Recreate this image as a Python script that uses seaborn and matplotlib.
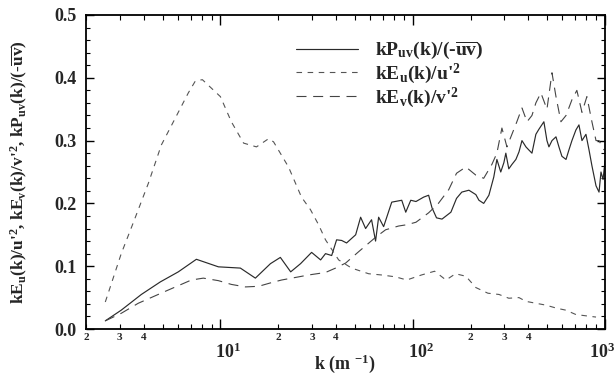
import numpy as np
import pandas as pd
import matplotlib
matplotlib.use("Agg")
import matplotlib.pyplot as plt
import matplotlib.ticker as mticker
import matplotlib.transforms as mtransforms
import seaborn as sns

# ---- data ----
k_uv = [2.52, 3.05, 3.88, 4.87, 6.04, 7.50, 9.76, 12.7, 15.2, 18.2, 20.5, 23.2, 26.1, 29.8,
        33.2, 35.2, 37.9, 40.2, 42.7, 45.3, 50.5, 53.6, 56.9, 61.1, 64.1, 66.5, 70.6, 77.8,
        87.7, 92.0, 97.7, 104, 114, 121, 126, 133, 142, 158, 169, 180, 196, 213, 221, 234,
        249, 264, 274, 287, 298, 305, 316, 328, 344, 357, 370, 388, 402, 417, 437, 453, 481,
        499, 511, 530, 556, 576, 597, 627, 649, 673, 706, 732, 759, 796, 826, 855, 898, 931,
        953, 977, 1000]
P_uv = [0.013, 0.030, 0.055, 0.075, 0.091, 0.111, 0.099, 0.097, 0.081, 0.104, 0.114, 0.091,
        0.104, 0.122, 0.110, 0.120, 0.117, 0.142, 0.141, 0.137, 0.150, 0.178, 0.160, 0.174,
        0.140, 0.178, 0.163, 0.202, 0.205, 0.186, 0.205, 0.203, 0.210, 0.213, 0.193, 0.177,
        0.175, 0.186, 0.208, 0.218, 0.221, 0.214, 0.205, 0.200, 0.213, 0.242, 0.270, 0.250,
        0.265, 0.280, 0.255, 0.262, 0.270, 0.282, 0.300, 0.290, 0.285, 0.280, 0.310, 0.318,
        0.330, 0.300, 0.290, 0.300, 0.306, 0.290, 0.275, 0.270, 0.285, 0.300, 0.317, 0.325,
        0.300, 0.310, 0.285, 0.260, 0.228, 0.218, 0.250, 0.238, 0.268]

k_u = [2.52, 3.05, 3.52, 4.22, 4.93, 5.83, 6.81, 7.41, 8.06, 8.66, 10.0, 11.4, 13.2, 15.4,
       17.8, 18.9, 22.6, 26.4, 29.4, 32.4, 35.2, 41.2, 48.1, 59.0, 69.0, 81.6, 93.1, 111,
       130, 149, 167, 189, 213, 246, 281, 316, 357, 388, 437, 493, 562, 626, 706, 796, 898]
E_u = [0.043, 0.120, 0.169, 0.232, 0.293, 0.336, 0.376, 0.395, 0.397, 0.388, 0.370, 0.330,
       0.296, 0.290, 0.303, 0.298, 0.258, 0.210, 0.190, 0.166, 0.142, 0.110, 0.097, 0.088,
       0.086, 0.083, 0.078, 0.086, 0.092, 0.078, 0.088, 0.084, 0.066, 0.057, 0.055, 0.049,
       0.050, 0.044, 0.041, 0.038, 0.033, 0.030, 0.023, 0.021, 0.019]

k_v = [2.52, 3.05, 3.74, 5.17, 7.06, 8.15, 9.76, 11.4, 13.5, 15.8, 18.5, 20.8, 25.5, 28.7,
       35.2, 39.7, 44.8, 52.3, 64.1, 72.3, 84.5, 93.1, 104, 121, 136, 154, 169, 189, 213,
       234, 258, 274, 291, 309, 328, 348, 370, 393, 417, 437, 464, 499, 530, 556, 590, 627,
       673, 714, 759, 805, 855, 898, 931, 989]
E_v = [0.013, 0.025, 0.041, 0.060, 0.078, 0.081, 0.077, 0.071, 0.067, 0.068, 0.074, 0.078,
       0.083, 0.086, 0.090, 0.097, 0.105, 0.123, 0.146, 0.158, 0.164, 0.166, 0.170, 0.185,
       0.200, 0.222, 0.248, 0.258, 0.245, 0.240, 0.262, 0.280, 0.320, 0.290, 0.310, 0.330,
       0.352, 0.330, 0.340, 0.360, 0.376, 0.350, 0.408, 0.370, 0.330, 0.340, 0.365, 0.380,
       0.345, 0.370, 0.330, 0.300, 0.300, 0.285]

x_major = [10, 100, 1000]
x_major_labels = ["10$^{\\mathrm{1}}$", "10$^{\\mathrm{2}}$", "10$^{\\mathrm{3}}$"]

lab_uv = r"kP$_{\mathrm{uv}}$(k)/(-$\overline{\mathrm{uv}}$)"
lab_u = r"kE$_{\mathrm{u}}$(k)/u'$^{\mathrm{2}}$"
lab_v = r"kE$_{\mathrm{v}}$(k)/v'$^{\mathrm{2}}$"
ylab = (r"kE$_{\mathrm{u}}$(k)/u'$^{\mathrm{2}}$, kE$_{\mathrm{v}}$(k)/v'$^{\mathrm{2}}$, "
        r"kP$_{\mathrm{uv}}$(k)/(-$\overline{\mathrm{uv}}$)")

sns.set_style("ticks")
plt.rcParams["font.family"] = ["Liberation Serif", "DejaVu Serif"]
plt.rcParams["font.weight"] = "bold"
plt.rcParams["mathtext.fontset"] = "custom"
plt.rcParams["mathtext.rm"] = "Liberation Serif:bold"
plt.rcParams["mathtext.it"] = "Liberation Serif:bold"
plt.rcParams["mathtext.bf"] = "Liberation Serif:bold"

fig = plt.figure(figsize=(6.15, 3.74), dpi=100)
ax = fig.add_axes([86 / 615, 1 - 329 / 374, 519 / 615, 314 / 374])

df_uv = pd.DataFrame({"k": k_uv, "v": P_uv})
df_u = pd.DataFrame({"k": k_u, "v": E_u})
df_v = pd.DataFrame({"k": k_v, "v": E_v})

sns.lineplot(data=df_uv, x="k", y="v", ax=ax, estimator=None, color="#2a2a2a",
             lw=0.85, label=lab_uv)
sns.lineplot(data=df_u, x="k", y="v", ax=ax, estimator=None, color="#555555",
             lw=0.8, linestyle=(0, (5, 5)), label=lab_u)
sns.lineplot(data=df_v, x="k", y="v", ax=ax, estimator=None, color="#444444",
             lw=0.8, linestyle=(0, (9, 6)), label=lab_v)

ax.set_xscale("log")
ax.set_xlim(2, 1000)
ax.set_ylim(0, 0.5)

ax.yaxis.set_major_locator(mticker.MultipleLocator(0.1))
ax.yaxis.set_minor_locator(mticker.MultipleLocator(0.02))
ax.yaxis.set_major_formatter(mticker.FormatStrFormatter("%.1f"))

ax.xaxis.set_major_locator(mticker.FixedLocator(x_major))
ax.xaxis.set_major_formatter(mticker.FixedFormatter(x_major_labels))
minor_pos = [m * 10 ** e for e in range(0, 3) for m in range(2, 10)]
minor_pos = [p for p in minor_pos if p >= 2]
minor_labels = [str(int(round(p / 10 ** int(np.floor(np.log10(p)))))) if
                int(round(p / 10 ** int(np.floor(np.log10(p))))) in (2, 3, 4) else ""
                for p in minor_pos]
ax.xaxis.set_minor_locator(mticker.FixedLocator(minor_pos))
ax.xaxis.set_minor_formatter(mticker.FixedFormatter(minor_labels))

ax.tick_params(axis="both", which="both", direction="in", top=True, right=True,
               color="black")
ax.tick_params(axis="x", which="major", length=7, width=1.0, pad=10, labelsize=13)
ax.tick_params(axis="x", which="minor", length=3.5, width=0.8, pad=3, labelsize=8)
ax.tick_params(axis="y", which="major", length=6, width=1.0, labelsize=13, pad=7)
ax.tick_params(axis="y", which="minor", length=3, width=0.8)
for lab in ax.get_xticklabels(which="both") + ax.get_yticklabels():
    lab.set_fontweight("bold")

# shift major x labels right like in the reference
shift = mtransforms.ScaledTranslation(8 / 100, 0, fig.dpi_scale_trans)
xl = ax.get_xticklabels()
for lab in xl:
    lab.set_transform(lab.get_transform() + shift)
xl[-1].set_horizontalalignment("right")
xl[-1].set_transform(xl[-1].get_transform() +
                     mtransforms.ScaledTranslation(2 / 100, 0, fig.dpi_scale_trans))

for s in ax.spines.values():
    s.set_linewidth(1.3)
    s.set_color("black")

ax.set_xlabel(r"k (m $^{\mathrm{-1}}$)", fontsize=13, fontweight="bold")
ax.xaxis.set_label_coords((345 - 86) / 519, (329 - 352) / 314)
ax.set_ylabel(ylab, fontsize=12.5, fontweight="bold")
ax.yaxis.set_label_coords(-(86 - 30) / 519, 0.5)

leg = ax.legend(loc="upper left", bbox_to_anchor=(0.37, 0.975), frameon=False,
                handlelength=3.2, labelspacing=0.0, fontsize=14, handletextpad=0.9)
for t in leg.get_texts():
    t.set_fontweight("bold")

fig.savefig("out.png", dpi=100, facecolor="white")
